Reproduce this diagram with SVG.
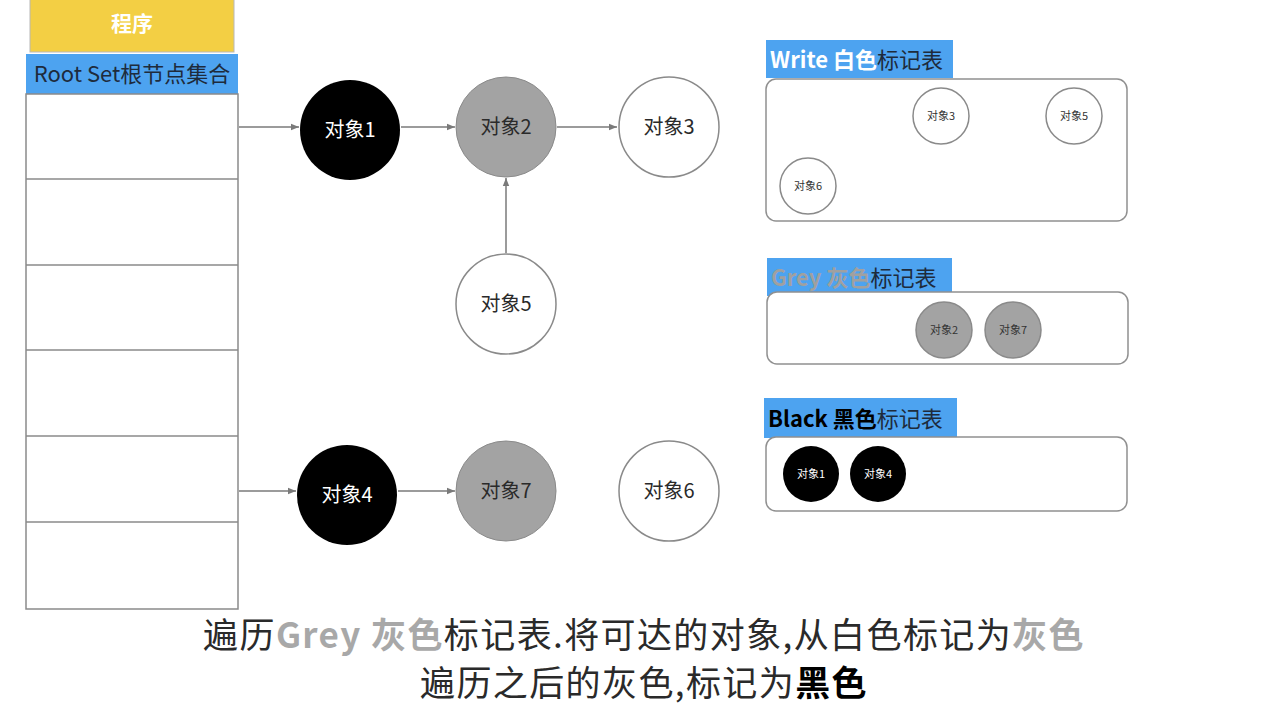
<svg xmlns="http://www.w3.org/2000/svg" width="1264" height="706" viewBox="0 0 1264 706">
<style>
text{font-family:"Noto Sans CJK SC","Liberation Sans",sans-serif}
.big{stroke:#8a8a8a;stroke-width:1.5}
.blk{fill:#000}
.gry{fill:#a3a3a3}
.wht{fill:#fff}
.lb{font-size:20px;text-anchor:middle}
.sm{font-size:11px;text-anchor:middle}
.tab{fill:#fff;stroke:#909090;stroke-width:1.5}
.hdr{fill:#4da3f0}
.conn{stroke:#7a7a7a;stroke-width:1.5;fill:none;marker-end:url(#ah)}
.cap{font-size:35px;fill:#2a2a2a;letter-spacing:1.4px}
</style>
<defs>
<marker id="ah" viewBox="0 0 10 10" refX="10" refY="5" markerWidth="8" markerHeight="8" markerUnits="userSpaceOnUse" orient="auto"><path d="M0,1 L10,5 L0,9 z" fill="#7a7a7a"/></marker>
</defs>
<rect width="1264" height="706" fill="#fff"/>

<g id="program">
<rect x="30" y="-10" width="204" height="62" fill="#f3cf44" stroke="#b8b8b8" stroke-width="1"/>
<text x="132" y="31" font-size="21" font-weight="bold" fill="#fff" text-anchor="middle">程序</text>
</g>

<g id="rootset">
<rect x="26" y="54" width="212" height="40" class="hdr"/>
<text x="132" y="82" font-size="22" fill="#1e2b3c" text-anchor="middle">Root Set根节点集合</text>
<rect x="26" y="94" width="212" height="515" fill="#fff" stroke="#8a8a8a" stroke-width="1.5"/>
<path d="M26 179H238M26 265H238M26 350H238M26 436H238M26 522H238" stroke="#8a8a8a" stroke-width="1.5"/>
</g>

<g id="connectors">
<line x1="239" y1="127" x2="299" y2="127" class="conn"/>
<line x1="401" y1="127" x2="455" y2="127" class="conn"/>
<line x1="557" y1="127" x2="617" y2="127" class="conn"/>
<line x1="506" y1="253" x2="506" y2="178" class="conn"/>
<line x1="239" y1="491" x2="296" y2="491" class="conn"/>
<line x1="398" y1="491" x2="455" y2="491" class="conn"/>
</g>

<g id="obj1"><circle cx="350" cy="130" r="50" class="blk"/><text x="350" y="137" class="lb" fill="#fff">对象1</text></g>
<g id="obj2"><circle cx="506" cy="127" r="50" class="gry" stroke="#8a8a8a" stroke-width="1"/><text x="506" y="134" class="lb" fill="#2a2a2a">对象2</text></g>
<g id="obj3"><circle cx="669" cy="127" r="50" class="wht big"/><text x="669" y="134" class="lb" fill="#2a2a2a">对象3</text></g>
<g id="obj5"><circle cx="506" cy="304" r="50" class="wht big"/><text x="506" y="311" class="lb" fill="#2a2a2a">对象5</text></g>
<g id="obj4"><circle cx="347" cy="495" r="50" class="blk"/><text x="347" y="502" class="lb" fill="#fff">对象4</text></g>
<g id="obj7"><circle cx="506" cy="491" r="50" class="gry" stroke="#8a8a8a" stroke-width="1"/><text x="506" y="498" class="lb" fill="#2a2a2a">对象7</text></g>
<g id="obj6"><circle cx="669" cy="491" r="50" class="wht big"/><text x="669" y="498" class="lb" fill="#2a2a2a">对象6</text></g>

<g id="white-table">
<rect x="766" y="40" width="187" height="38" class="hdr"/>
<text x="770" y="68" font-size="22"><tspan fill="#fff" font-weight="bold">Write 白色</tspan><tspan fill="#1e2b3c">标记表</tspan></text>
<rect x="766" y="79" width="361" height="142" rx="10" class="tab"/>
<circle cx="941" cy="116" r="28" class="wht big"/><text x="941" y="120" class="sm" fill="#333">对象3</text>
<circle cx="1074" cy="116" r="28" class="wht big"/><text x="1074" y="120" class="sm" fill="#333">对象5</text>
<circle cx="808" cy="186" r="28" class="wht big"/><text x="808" y="190" class="sm" fill="#333">对象6</text>
</g>

<g id="grey-table">
<rect x="767" y="258" width="185" height="38" class="hdr"/>
<text x="771" y="286" font-size="22"><tspan fill="#a0a0a0" font-weight="bold">Grey 灰色</tspan><tspan fill="#1e2b3c">标记表</tspan></text>
<rect x="767" y="292" width="361" height="72" rx="10" class="tab"/>
<circle cx="944" cy="330" r="28" class="gry" stroke="#8a8a8a" stroke-width="1.5"/><text x="944" y="334" class="sm" fill="#333">对象2</text>
<circle cx="1013" cy="330" r="28" class="gry" stroke="#8a8a8a" stroke-width="1.5"/><text x="1013" y="334" class="sm" fill="#333">对象7</text>
</g>

<g id="black-table">
<rect x="764" y="398" width="193" height="40" class="hdr"/>
<text x="768" y="427" font-size="22"><tspan fill="#000" font-weight="bold">Black 黑色</tspan><tspan fill="#1e2b3c">标记表</tspan></text>
<rect x="766" y="437" width="361" height="74" rx="10" class="tab"/>
<circle cx="811" cy="474" r="28" class="blk"/><text x="811" y="478" class="sm" fill="#fff">对象1</text>
<circle cx="878" cy="474" r="28" class="blk"/><text x="878" y="478" class="sm" fill="#fff">对象4</text>
</g>

<g id="caption">
<text x="644" y="648" class="cap" text-anchor="middle">遍历<tspan fill="#a8a8a8" font-weight="bold">Grey 灰色</tspan>标记表.将可达的对象,从白色标记为<tspan fill="#a8a8a8" font-weight="bold">灰色</tspan></text>
<text x="644" y="696" class="cap" text-anchor="middle">遍历之后的灰色,标记为<tspan fill="#000" font-weight="bold">黑色</tspan></text>
</g>
</svg>
